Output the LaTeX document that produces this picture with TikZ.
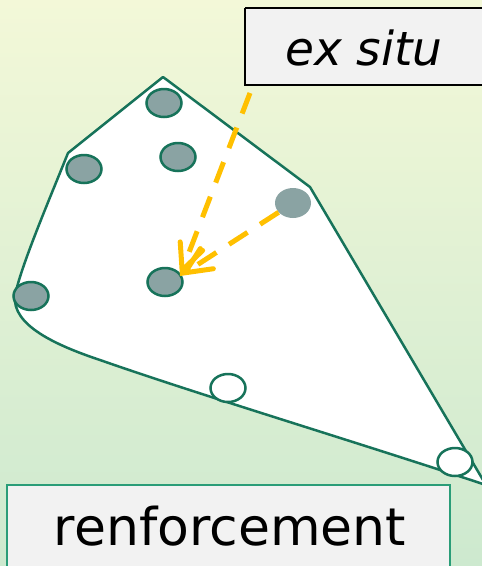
\documentclass[tikz,border=0pt]{standalone}
\usepackage{fontspec}
\setmainfont{DejaVu Sans}
\usetikzlibrary{shapes.geometric,arrows.meta}
\definecolor{bgtop}{HTML}{F3F8D8}
\definecolor{bgbot}{HTML}{CDE9CF}
\definecolor{edgegreen}{HTML}{17735A}
\definecolor{dotfill}{HTML}{8AA3A3}
\definecolor{boxgray}{HTML}{F2F2F2}
\definecolor{boxgreen}{HTML}{2A9D78}
\definecolor{arrowor}{HTML}{FFC000}
\tikzset{
  dot/.style={ellipse, minimum width=35pt, minimum height=28pt, inner sep=0pt, fill=dotfill, draw=edgegreen, line width=2.5pt},
  ghost/.style={ellipse, minimum width=36pt, minimum height=30pt, inner sep=0pt, fill=dotfill},
  hollow/.style={ellipse, minimum width=35pt, minimum height=28pt, inner sep=0pt, fill=white, draw=edgegreen, line width=2.5pt},
  flow/.style={draw=arrowor, line width=5pt, dash pattern=on 22pt off 15pt, -{Straight Barb[length=26pt,width=24pt,line width=5pt,line cap=round]}},
}
\begin{document}
\begin{tikzpicture}[x=1pt,y=-1pt]
\useasboundingbox (0,0) rectangle (482,566);
\begin{scope}
\clip (0,0) rectangle (482,566);
\shade[top color=bgtop, bottom color=bgbot] (0,0) rectangle (482,566);
\draw[edgegreen, line width=2.5pt, fill=white, line join=round]
  (486,485) .. controls (350,440) and (200,395) .. (100,360)
  .. controls (55,345) and (12,325) .. (15,296)
  .. controls (20,268) and (50,198) .. (68,153)
  -- (163,77) -- (310,187) -- cycle;
\node[dot] (c1) at (164,103) {};
\node[dot] (c2) at (178,157) {};
\node[dot] (c3) at (84,169) {};
\node[ghost] (c4) at (293,203) {};
\node[dot] (c5) at (165,282) {};
\node[dot] (c6) at (31,296) {};
\node[hollow] (h1) at (228,388) {};
\node[hollow] (h2) at (455,462) {};
\draw[boxgray, fill=boxgray] (245,8) rectangle (490,85);
\draw[black, line width=1.6pt, fill=boxgray] (245,8) -- (490,8) (245,8) -- (245,85) -- (490,85);
\node[inner sep=0pt, anchor=base, font=\fontsize{47}{50}\selectfont\itshape] (exsitu) at (364,65) {ex situ};
\draw[boxgreen, line width=2pt, fill=boxgray] (7,484.5) rectangle (450,580);
\node[inner sep=0pt, anchor=base, font=\fontsize{52}{56}\selectfont] (renf) at (230,545) {renforcement};
\coordinate (a1s) at (250,93);
\coordinate (tip) at (180,276);
\draw[flow] (a1s) -- (tip);
\draw[flow] (c4) -- (tip);
\end{scope}
\end{tikzpicture}
\end{document}
